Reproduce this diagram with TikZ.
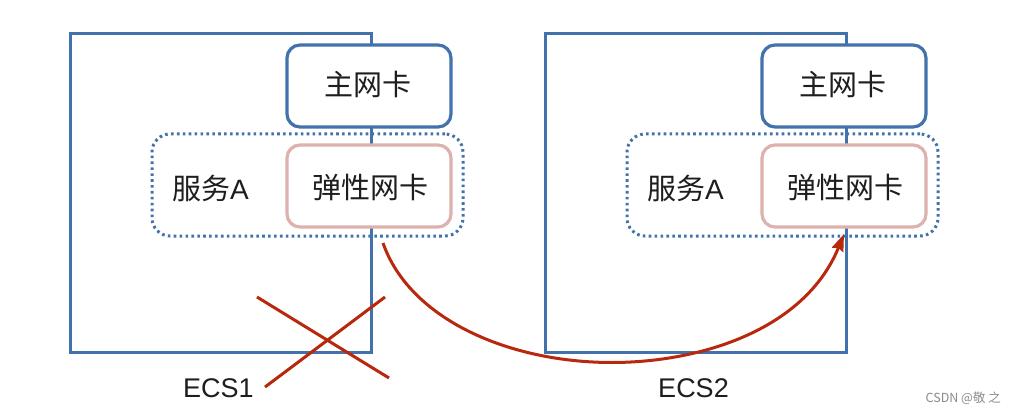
\documentclass[tikz,border=0pt]{standalone}
\usepackage{fontspec}
\setmainfont{Liberation Sans}
\newfontfamily\cjkplain{Noto Sans CJK SC}
\usetikzlibrary{arrows.meta}
\definecolor{boxblue}{HTML}{4272AC}
\definecolor{nicpink}{HTML}{DDB2AE}
\definecolor{crossred}{HTML}{B8280C}
\definecolor{inkblack}{HTML}{1E1E1E}
\tikzset{
  x=1pt,y=-1pt,
  server/.style={draw=boxblue,line width=3pt,minimum width=301pt,minimum height=318pt,inner sep=0pt},
  primarynic/.style={draw=boxblue,line width=3.2pt,fill=white,rounded corners=13pt,minimum width=164pt,minimum height=82pt,inner sep=0pt},
  elasticnic/.style={draw=nicpink,line width=3.2pt,fill=white,rounded corners=13pt,minimum width=164pt,minimum height=82pt,inner sep=0pt},
  service/.style={draw=boxblue,line width=3pt,dash pattern=on 2.6pt off 3.3pt,line cap=butt,rounded corners=18pt,minimum width=311pt,minimum height=102pt,inner sep=0pt},
  cjklabel/.style={text=inkblack,font=\cjkplain\fontsize{29}{30}\selectfont,inner sep=0pt},
  eclabel/.style={text=inkblack,font=\fontsize{27}{30}\selectfont,inner sep=0pt},
  redline/.style={draw=crossred,line width=3pt},
  watermark/.style={text=black!45,font=\cjkplain\fontsize{12.5}{14}\selectfont,inner sep=0pt}
}
\begin{document}
\begin{tikzpicture}
\useasboundingbox (0,0) rectangle (1016,414);
\fill[white] (0,0) rectangle (1016,414);
% left
\node[server] (s1) at (220.5,193) {};
\node[service] (a1) at (307.5,185) {};
\node[primarynic] (p1) at (369,86) {};
\node[elasticnic] (e1) at (369,186) {};
\node[cjklabel] (pt1) at (368,84) {主网卡};
\node[cjklabel] (et1) at (370,187) {弹性网卡};
\node[cjklabel,anchor=west] (at1) at (172,188) {服务\fontsize{28}{30}\selectfont\rmfamily A};
\node[eclabel] (ec1) at (218.5,388) {ECS1};
% right
\node[server] (s2) at (695.5,193) {};
\node[service] (a2) at (782.5,185) {};
\node[primarynic] (p2) at (844,86) {};
\node[elasticnic] (e2) at (844,186) {};
\node[cjklabel] (pt2) at (843,84) {主网卡};
\node[cjklabel] (et2) at (845,187) {弹性网卡};
\node[cjklabel,anchor=west] (at2) at (647,188) {服务\fontsize{28}{30}\selectfont\rmfamily A};
\node[eclabel] (ec2) at (693.5,388) {ECS2};
% cross
\coordinate (c1) at (257,297);
\coordinate (c2) at (389,378);
\coordinate (c3) at (385,297);
\coordinate (c4) at (265,387);
\draw[redline] (c1) -- (c2);
\draw[redline] (c3) -- (c4);
% move
\coordinate (m0) at (383,243);
\coordinate (mid) at (612,362.5);
\coordinate (m1) at (844,234);
\draw[redline,-{Stealth[length=17pt,width=12pt,inset=2pt]}] (m0) .. controls (410,320) and (510,362.5) .. (mid) .. controls (700,362.5) and (805,330) .. (m1);
\node[watermark,anchor=east] (wm) at (1001,398) {CSDN @敬 之};
\end{tikzpicture}
\end{document}
